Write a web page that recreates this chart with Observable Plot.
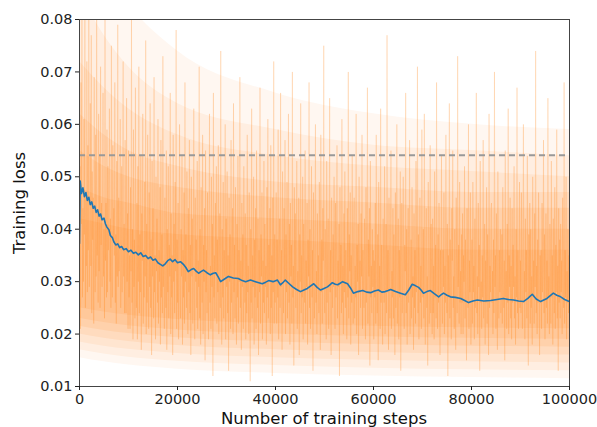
<!DOCTYPE html>
<html><head><meta charset="utf-8">
<script src="https://cdn.jsdelivr.net/npm/d3@7"></script>
<script src="https://cdn.jsdelivr.net/npm/@observablehq/plot@0.6"></script>
<style>body{margin:0;background:#fff;}</style>
</head><body><div id="chart"></div>
<script>
const xTicks = [0, 20000, 40000, 60000, 80000, 100000];
const yTicks = [0.01, 0.02, 0.03, 0.04, 0.05, 0.06, 0.07, 0.08];
const xLabel = "Number of training steps";
const yLabel = "Training loss";
const baselineLoss = 0.0541;

// smoothed (blue) training loss
const smoothSteps = [0,150,400,700,1000,1300,1600,1900,2200,2500,2800,3100,3400,3700,4000,4300,4600,5000,5300,5600,6000,6300,6700,7000,7400,7800,8200,8600,9000,9500,10000,10500,11000,11500,12000,12500,13000,13500,14000,14500,15000,15500,16000,16500,17000,17500,18000,18500,19000,19500,20000,20600,21200,21700,22200,22800,23300,23800,24300,24800,25300,26000,26700,27300,27800,28300,28800,29600,30400,31400,32400,33200,33900,34900,35900,36600,37300,38000,38600,39500,40400,41000,41500,42000,42800,43500,44300,45100,45800,46500,47200,47800,48500,49200,49900,50600,51100,51600,52200,52700,53200,53700,54200,54700,55300,55900,56800,57800,58600,59400,60200,61000,61700,62400,63000,63500,64500,65500,66500,67200,67900,68600,69200,69700,70200,70900,71600,72400,73300,73800,74300,75000,75700,76700,77800,78600,79400,80300,81200,82500,83900,85200,86500,87500,88600,89600,90600,91500,92400,93200,94100,95400,96700,97400,98200,99000,100000];
const smoothLoss = [0.0373,0.0492,0.0468,0.0479,0.0462,0.0470,0.0455,0.0461,0.0447,0.0452,0.0440,0.0444,0.0432,0.0437,0.0425,0.0429,0.0418,0.0421,0.0410,0.0404,0.0399,0.0388,0.0384,0.0376,0.0370,0.0372,0.0365,0.0367,0.0361,0.0363,0.0357,0.0360,0.0354,0.0356,0.0351,0.0355,0.0348,0.0350,0.0344,0.0347,0.0341,0.0343,0.0336,0.0333,0.0330,0.0334,0.0340,0.0343,0.0338,0.0342,0.0336,0.0338,0.0333,0.0327,0.0319,0.0323,0.0325,0.0320,0.0316,0.0319,0.0322,0.0317,0.0313,0.0316,0.0317,0.0309,0.0300,0.0305,0.0310,0.0307,0.0306,0.0302,0.0300,0.0303,0.0300,0.0298,0.0296,0.0299,0.0302,0.0300,0.0303,0.0294,0.0298,0.0303,0.0296,0.0290,0.0285,0.0281,0.0284,0.0287,0.0292,0.0296,0.0289,0.0284,0.0287,0.0290,0.0294,0.0298,0.0295,0.0294,0.0297,0.0300,0.0298,0.0296,0.0288,0.0278,0.0281,0.0283,0.0280,0.0279,0.0282,0.0284,0.0280,0.0281,0.0283,0.0285,0.0281,0.0278,0.0275,0.0284,0.0295,0.0292,0.0289,0.0284,0.0278,0.0281,0.0283,0.0277,0.0271,0.0275,0.0278,0.0274,0.0271,0.0270,0.0268,0.0264,0.0260,0.0263,0.0265,0.0263,0.0264,0.0266,0.0268,0.0266,0.0265,0.0263,0.0262,0.0268,0.0276,0.0267,0.0262,0.0268,0.0278,0.0274,0.0271,0.0266,0.0262];

// raw (orange) training loss in thousandths, evenly spaced readings (2000 steps per row of 20)
const rawLossMilli = [
37,52,21,68,41,95,27,44,30,61,39,83,25,47,33,72,28,56,36,89,
29,41,64,33,77,24,51,38,46,22,69,38,28,58,31,81,35,43,26,62,
32,54,25,71,37,45,29,49,66,31,40,23,87,34,45,27,59,28,52,36,
44,63,30,42,25,75,33,27,56,38,44,35,68,26,39,22,53,31,79,29,
46,32,37,61,25,34,52,28,50,72,31,41,24,57,36,24,65,30,43,21,
55,27,35,21,48,32,83,26,40,19,59,29,38,23,67,33,25,45,19,52,
30,71,24,39,28,54,17,43,34,62,22,36,27,49,31,76,20,41,26,58,
33,21,47,29,64,25,38,16,53,31,44,23,69,28,35,19,50,32,42,26,
61,22,36,30,48,18,57,27,39,24,73,29,34,21,46,33,25,55,17,40,
28,52,23,37,31,66,20,43,27,35,16,58,30,41,24,49,32,78,21,38,
26,45,19,34,60,29,23,40,31,54,18,36,27,47,22,68,30,39,25,51,
33,20,44,28,57,24,37,16,50,31,42,22,35,63,27,19,46,30,38,25,
53,21,34,29,71,23,40,18,48,32,26,58,20,37,30,44,15,55,28,36,
24,47,31,19,39,62,26,33,21,50,29,41,12,66,27,35,23,45,32,52,
22,38,28,56,20,34,43,25,74,30,18,40,27,49,23,36,31,60,19,42,
29,51,24,35,13,46,30,39,21,57,26,33,44,20,64,28,37,23,48,31,
18,41,27,54,22,36,30,69,25,34,17,45,29,39,21,52,32,26,43,19,
37,24,58,28,33,20,47,31,11,40,26,63,23,35,29,50,18,38,27,44,
21,55,30,25,42,16,36,28,67,22,39,31,47,19,34,26,53,24,41,29,
33,18,48,27,61,23,37,30,44,20,56,25,35,12,46,28,72,22,39,26,
31,47,22,38,27,59,19,35,42,25,66,29,36,17,51,33,24,44,30,57,
20,39,28,49,23,34,62,26,41,18,45,31,37,22,70,27,33,14,48,29,
43,25,36,53,21,32,28,46,16,39,30,64,24,35,27,50,19,41,33,26,
55,22,34,29,45,18,38,31,68,25,40,21,33,52,27,36,13,47,30,23,
37,60,26,32,20,43,29,35,24,49,31,17,58,28,38,22,44,34,75,27,
24,40,31,19,53,26,35,42,21,30,65,28,36,16,46,33,25,39,29,50,
32,21,45,27,38,56,23,34,29,41,12,48,30,37,24,61,26,33,20,43,
28,51,25,36,31,19,44,27,70,23,39,32,47,18,35,26,54,30,22,40,
46,23,33,27,62,20,37,30,41,16,50,28,34,25,43,31,58,21,36,29,
25,42,30,19,48,26,35,67,22,38,31,44,14,53,27,33,24,40,29,36,
19,34,27,45,22,58,30,24,39,15,49,28,33,21,63,26,37,31,18,42,
35,26,52,20,31,41,24,77,28,36,17,46,29,23,38,55,21,32,27,44,
23,39,30,16,47,25,34,60,22,29,42,19,36,27,51,13,33,45,24,31,
50,28,21,37,32,66,24,40,18,30,44,26,35,57,20,29,38,23,48,27,
31,17,43,25,36,22,53,28,34,71,24,39,19,30,46,26,33,21,59,29,
27,40,23,62,29,18,35,44,25,31,14,49,37,22,28,56,24,41,30,20,
42,24,33,19,51,27,37,23,68,30,21,39,26,45,32,16,36,28,54,25,
22,36,29,47,20,33,26,58,31,24,41,12,35,27,64,23,38,30,19,44,
34,55,25,31,21,40,28,17,46,33,24,73,29,37,22,49,26,32,20,39,
26,43,20,35,30,52,23,38,27,15,44,31,25,60,21,34,28,47,18,33,
38,22,49,28,33,19,42,25,36,66,24,31,20,45,29,37,13,53,26,30,
21,35,27,57,23,30,41,18,34,26,48,22,39,29,16,62,25,33,28,44,
45,26,32,20,38,24,70,29,35,21,43,27,17,51,31,23,36,28,40,24,
28,39,22,48,30,25,34,15,55,27,32,21,41,26,63,20,35,29,46,23,
33,19,44,26,37,29,52,23,31,18,40,27,67,24,36,21,30,49,25,34,
24,47,29,21,35,60,26,32,19,42,28,36,23,54,30,14,39,27,45,22,
40,25,31,18,50,27,34,22,43,29,74,24,33,20,38,26,47,30,16,35,
26,36,21,45,28,32,57,24,39,19,30,43,25,34,22,65,27,31,20,41,
31,22,53,27,35,18,42,29,24,48,21,37,28,59,23,33,13,44,26,38,
23,41,28,34,20,46,30,25,68,22,36,27,50,19,32,26,40,24,35,27
];

// density levels of the raw loss (read from the shading), outer to inner
const bandSteps = [0, 5000, 10000, 20000, 40000, 60000, 80000, 100000];
const bandLo1 = [.0155,.0147,.0141,.0133,.0125,.0120,.0117,.0115];
const bandHi1 = [.100,.090,.083,.074,.066,.062,.060,.059];
const bandLo2 = [.0170,.0162,.0156,.0148,.0140,.0135,.0132,.0130];
const bandHi2 = [.085,.077,.071,.064,.059,.056,.055,.054];
const bandLo3 = [.0185,.0177,.0171,.0163,.0155,.0150,.0147,.0145];
const bandHi3 = [.072,.067,.063,.058,.054,.052,.051,.050];
const bandLo4 = [.0200,.0192,.0186,.0178,.0170,.0165,.0162,.0160];
const bandHi4 = [.062,.058,.055,.052,.049,.048,.047,.047];
const bandLo5 = [.0215,.0207,.0201,.0193,.0185,.0180,.0177,.0175];
const bandHi5 = [.055,.052,.050,.048,.046,.045,.044,.044];
const bandLo6 = [.0230,.0222,.0216,.0208,.0200,.0195,.0192,.0190];
const bandHi6 = [.048,.046,.045,.043,.042,.041,.040,.040];
const bandLo7 = [.0250,.0242,.0236,.0228,.0220,.0215,.0212,.0210];
const bandHi7 = [.042,.041,.040,.039,.038,.037,.036,.036];
const bandShade = [0.06, 0.07, 0.08, 0.09, 0.1, 0.11, 0.11];

const smooth = smoothSteps.map((s, i) => ({step: s, loss: smoothLoss[i]}));
const raw = rawLossMilli.map((v, i) => ({step: i * 100000 / (rawLossMilli.length - 1), loss: v / 1000}));
const bands = [[bandLo1, bandHi1], [bandLo2, bandHi2], [bandLo3, bandHi3], [bandLo4, bandHi4],
               [bandLo5, bandHi5], [bandLo6, bandHi6], [bandLo7, bandHi7]]
  .map(([lo, hi]) => bandSteps.map((s, i) => ({step: s, lo: lo[i], hi: hi[i]})));

const orange = "#ff7f0e";
const chart = Plot.plot({
  width: 597, height: 427,
  marginLeft: 79, marginRight: 28, marginTop: 19, marginBottom: 41,
  style: {fontFamily: "DejaVu Sans", fontSize: "14.5px", background: "#fff", color: "#111"},
  x: {domain: [0, 100000], label: null},
  y: {domain: [0.01, 0.08], label: null},
  marks: [
    ...bands.map((b, k) => Plot.areaY(b, {x: "step", y1: "lo", y2: "hi", fill: orange, fillOpacity: bandShade[k], curve: "monotone-x", clip: true})),
    Plot.lineY(raw, {x: "step", y: "loss", stroke: orange, strokeOpacity: 0.22, strokeWidth: 0.8, clip: true}),
    Plot.ruleY([baselineLoss], {stroke: "#999", strokeWidth: 2, strokeDasharray: "6,4"}),
    Plot.lineY(smooth, {x: "step", y: "loss", stroke: "#1f77b4", strokeWidth: 1.6, clip: true}),
    Plot.frame({stroke: "#444", strokeWidth: 1}),
    Plot.axisX(xTicks, {tickFormat: d => String(d), tickSize: 4, tickPadding: 3, label: null, color: "#222"}),
    Plot.axisY(yTicks, {tickFormat: d => d.toFixed(2), tickSize: 4, tickPadding: 3, label: null, color: "#222"})
  ]
});
document.getElementById("chart").appendChild(chart);
const svg = d3.select(chart);
svg.append("text").attr("x", 324).attr("y", 424).attr("text-anchor", "middle")
  .attr("font-size", "16.5px").attr("fill", "#111").text(xLabel);
svg.append("text").attr("transform", "translate(25,203) rotate(-90)").attr("text-anchor", "middle")
  .attr("font-size", "16.5px").attr("fill", "#111").text(yLabel);
</script>
</body></html>
